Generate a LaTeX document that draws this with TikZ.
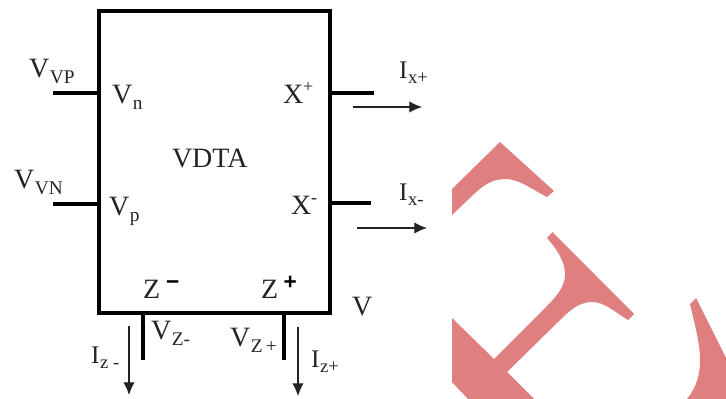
\documentclass[tikz,border=0pt]{standalone}
\usepackage{fontspec}
\setmainfont{Liberation Serif}
\newfontfamily\heavysign{Liberation Sans}
\usetikzlibrary{arrows.meta}
\definecolor{pinkmark}{RGB}{223,127,127}
\definecolor{inkgray}{RGB}{35,35,35}
\tikzset{
  x=0.75pt,y=-0.75pt,
  lab/.style={anchor=base west,inner sep=0pt,outer sep=0pt,text=inkgray,font=\fontsize{21pt}{22pt}\selectfont},
  smalllab/.style={lab,font=\fontsize{19pt}{20pt}\selectfont},
  signlab/.style={lab,text=black,font=\fontsize{17pt}{18pt}\heavysign\bfseries\selectfont},
  heavy/.style={line width=3pt,black},
  flow/.style={line width=0.9pt,inkgray,-{Latex[length=9.5pt,width=8.5pt]}}
}
\newcommand{\Sb}[1]{\kern0.5pt\raisebox{-4pt}{\fontsize{14.5pt}{15pt}\selectfont #1}}
\newcommand{\Ss}[1]{\kern0.5pt\raisebox{-3.6pt}{\fontsize{14pt}{15pt}\selectfont #1}}
\begin{document}
\begin{tikzpicture}
\useasboundingbox (0,0) rectangle (726,399);
% watermark fragments
\fill[pinkmark] (452,189) -- (500,142) -- (554,191) -- (547,197)
  .. controls (530,188) and (518,179) .. (506,179)
  .. controls (490,179) and (482,187) .. (474,194) -- (452,215) -- cycle;
\fill[pinkmark] (552.5,232) -- (634,314) -- (628,320)
  .. controls (612,310) and (604,302) .. (592,302)
  .. controls (578,302) and (568,312) .. (558,322)
  -- (507,372) -- (534,399) -- (468,399) -- (452,382) -- (452,318) -- (494,359) -- (546,307)
  .. controls (556,297) and (565,287) .. (565,274)
  .. controls (565,260) and (555,247) .. (547,238) -- cycle;
\fill[pinkmark] (696,298) -- (726,358) -- (726,399) -- (687,399)
  .. controls (696,388) and (700,376) .. (700,360)
  .. controls (700,342) and (694,322) .. (690,304) -- cycle;
% block
\node[draw=black,line width=3pt,outer sep=0pt,minimum width=173.25pt,minimum height=226.5pt,inner sep=0pt,anchor=north west] (box) at (99,11) {};
% terminals
\coordinate (vpEnd) at (53,93);
\coordinate (vnEnd) at (53,204.5);
\coordinate (xpEnd) at (373.5,93);
\coordinate (xnEnd) at (370.5,203);
\coordinate (zmEnd) at (143,360);
\coordinate (zpEnd) at (284,360);
\draw[heavy] (vpEnd) -- (vpEnd -| box.west);
\draw[heavy] (vnEnd) -- (vnEnd -| box.west);
\draw[heavy] (xpEnd) -- (xpEnd -| box.east);
\draw[heavy] (xnEnd) -- (xnEnd -| box.east);
\draw[heavy] (zmEnd) -- (zmEnd |- box.south);
\draw[heavy] (zpEnd) -- (zpEnd |- box.south);
% current arrows
\coordinate (a1s) at (353,107); \coordinate (a1e) at (422,107);
\coordinate (a2s) at (357,228); \coordinate (a2e) at (427,228);
\coordinate (a3s) at (129,326); \coordinate (a3e) at (129,395);
\coordinate (a4s) at (298,327); \coordinate (a4e) at (298,396);
\draw[flow] (a1s) -- (a1e);
\draw[flow] (a2s) -- (a2e);
\draw[flow] (a3s) -- (a3e);
\draw[flow] (a4s) -- (a4e);
% labels
\node[lab] (t1) at (29,78) {V\Sb{VP}};
\node[lab] (t2) at (112,104) {V\Sb{n}};
\node[lab] (t3) at (14,189) {V\Sb{VN}};
\node[lab] (t4) at (109,216) {V\Sb{p}};
\node[lab] (t5) at (172,168) {VDTA};
\node[lab] (t6) at (283,104) {X\raisebox{8.5pt}{\fontsize{13.5pt}{14pt}\selectfont +}};
\node[lab] (t7) at (291,215) {X\raisebox{8.5pt}{\fontsize{13.5pt}{14pt}\selectfont -}};
\node[smalllab] (t8) at (399,79) {I\Ss{x+}};
\node[smalllab] (t9) at (399,201) {I\Ss{x-}};
\node[lab] (t10) at (143,299) {Z};
\node[signlab] (t11) at (166,290) {−};
\node[lab] (t12) at (261,299) {Z};
\node[signlab] (t13) at (283.5,290) {+};
\node[lab] (t14) at (352,316) {V};
\node[lab] (t15) at (151,340) {V\Sb{Z-}};
\node[lab] (t16) at (230,347) {V\Sb{Z\,+}};
\node[smalllab] (t17) at (91,364) {I\Ss{z -}};
\node[smalllab] (t18) at (311,368) {I\Ss{z+}};
\end{tikzpicture}
\end{document}
